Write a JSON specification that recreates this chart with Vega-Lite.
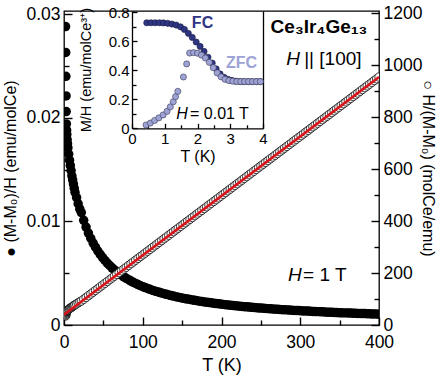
{
 "$schema": "https://vega.github.io/schema/vega-lite/v6.json",
 "width": 315, "height": 314,
 "autosize": "none",
 "padding": {"left": 64, "top": 11, "right": 64, "bottom": 56},
 "background": "white",
 "config": {
  "font": "Liberation Sans",
  "view": {"stroke": "#000", "strokeWidth": 1.3},
  "axis": {"domainColor": "#000", "labelColor": "#000", "titleColor": "#000", "grid": false, "zindex": 1, "titleFontWeight": "normal", "domainWidth": 1.3, "labelFlush": false, "labelOverlap": false},
  "text": {"font": "Liberation Sans"}
 },
 "datasets": {
  "main": [
   {"T":2.0,"chi":0.0288,"inv":34.7},{"T":2.2,"chi":0.0263,"inv":38.0},{"T":2.4,"chi":0.0240,"inv":41.7},{"T":2.6,"chi":0.0221,"inv":45.2},{"T":2.8,"chi":0.0206,"inv":48.5},{"T":3.0,"chi":0.0194,"inv":51.5},{"T":3.3,"chi":0.0188,"inv":53.2},{"T":3.6,"chi":0.0184,"inv":54.3},{"T":4.0,"chi":0.0179,"inv":55.9},{"T":4.5,"chi":0.0175,"inv":57.1},{"T":5,"chi":0.0171,"inv":58.5},{"T":6,"chi":0.0165,"inv":60.6},{"T":7,"chi":0.0159,"inv":62.9},{"T":8,"chi":0.0154,"inv":64.9},{"T":9,"chi":0.0149,"inv":67.1},{"T":10,"chi":0.0144,"inv":69.4},{"T":11,"chi":0.0140,"inv":71.4},{"T":12,"chi":0.0136,"inv":73.5},{"T":13,"chi":0.0132,"inv":75.8},{"T":14,"chi":0.0128,"inv":78.1},{"T":16,"chi":0.0123,"inv":81.3},{"T":18,"chi":0.0117,"inv":85.5},{"T":20,"chi":0.0112,"inv":89.3},
   {"T":22,"chi":0.01085,"inv":92.2},{"T":25,"chi":0.01010,"inv":99.0},{"T":28,"chi":0.00945,"inv":105.8},{"T":31,"chi":0.00887,"inv":112.7},{"T":34,"chi":0.00837,"inv":119.5},{"T":37,"chi":0.00791,"inv":126.4},{"T":40,"chi":0.00751,"inv":133.2},{"T":43,"chi":0.00714,"inv":140.0},{"T":46,"chi":0.00681,"inv":146.9},{"T":49,"chi":0.00651,"inv":153.7},
   {"T":52,"chi":0.00623,"inv":160.6},{"T":55,"chi":0.00597,"inv":167.4},{"T":58,"chi":0.00574,"inv":174.2},{"T":61,"chi":0.00552,"inv":181.1},{"T":64,"chi":0.00532,"inv":187.9},{"T":67,"chi":0.00513,"inv":194.8},{"T":70,"chi":0.00496,"inv":201.6},{"T":73,"chi":0.00480,"inv":208.4},{"T":76,"chi":0.00465,"inv":215.3},{"T":79,"chi":0.00450,"inv":222.1},
   {"T":82,"chi":0.00437,"inv":229.0},{"T":85,"chi":0.00424,"inv":235.8},{"T":88,"chi":0.00412,"inv":242.6},{"T":91,"chi":0.00401,"inv":249.5},{"T":94,"chi":0.00390,"inv":256.3},{"T":97,"chi":0.00380,"inv":263.2},{"T":100,"chi":0.00370,"inv":270.0},{"T":103,"chi":0.00361,"inv":276.8},{"T":106,"chi":0.00353,"inv":283.7},{"T":109,"chi":0.00344,"inv":290.5},
   {"T":112,"chi":0.00336,"inv":297.4},{"T":115,"chi":0.00329,"inv":304.2},{"T":118,"chi":0.00322,"inv":311.0},{"T":121,"chi":0.00315,"inv":317.9},{"T":124,"chi":0.00308,"inv":324.7},{"T":127,"chi":0.00302,"inv":331.6},{"T":130,"chi":0.00296,"inv":338.4},{"T":133,"chi":0.00290,"inv":345.2},{"T":136,"chi":0.00284,"inv":352.1},{"T":139,"chi":0.00279,"inv":358.9},
   {"T":142,"chi":0.00273,"inv":365.8},{"T":145,"chi":0.00268,"inv":372.6},{"T":148,"chi":0.00264,"inv":379.4},{"T":151,"chi":0.00259,"inv":386.3},{"T":154,"chi":0.00254,"inv":393.1},{"T":157,"chi":0.00250,"inv":400.0},{"T":160,"chi":0.00246,"inv":406.8},{"T":163,"chi":0.00242,"inv":413.6},{"T":166,"chi":0.00238,"inv":420.5},{"T":169,"chi":0.00234,"inv":427.3},
   {"T":172,"chi":0.00230,"inv":434.2},{"T":175,"chi":0.00227,"inv":441.0},{"T":178,"chi":0.00223,"inv":447.8},{"T":181,"chi":0.00220,"inv":454.7},{"T":184,"chi":0.00217,"inv":461.5},{"T":187,"chi":0.00214,"inv":468.4},{"T":190,"chi":0.00210,"inv":475.2},{"T":193,"chi":0.00207,"inv":482.0},{"T":196,"chi":0.00205,"inv":488.9},{"T":199,"chi":0.00202,"inv":495.7},
   {"T":202,"chi":0.00199,"inv":502.6},{"T":205,"chi":0.00196,"inv":509.4},{"T":208,"chi":0.00194,"inv":516.2},{"T":211,"chi":0.00191,"inv":523.1},{"T":214,"chi":0.00189,"inv":529.9},{"T":217,"chi":0.00186,"inv":536.8},{"T":220,"chi":0.00184,"inv":543.6},{"T":223,"chi":0.00182,"inv":550.4},{"T":226,"chi":0.00179,"inv":557.3},{"T":229,"chi":0.00177,"inv":564.1},
   {"T":232,"chi":0.00175,"inv":571.0},{"T":235,"chi":0.00173,"inv":577.8},{"T":238,"chi":0.00171,"inv":584.6},{"T":241,"chi":0.00169,"inv":591.5},{"T":244,"chi":0.00167,"inv":598.3},{"T":247,"chi":0.00165,"inv":605.2},{"T":250,"chi":0.00163,"inv":612.0},{"T":253,"chi":0.00162,"inv":618.8},{"T":256,"chi":0.00160,"inv":625.7},{"T":259,"chi":0.00158,"inv":632.5},
   {"T":262,"chi":0.00156,"inv":639.4},{"T":265,"chi":0.00155,"inv":646.2},{"T":268,"chi":0.00153,"inv":653.0},{"T":271,"chi":0.00152,"inv":659.9},{"T":274,"chi":0.00150,"inv":666.7},{"T":277,"chi":0.00148,"inv":673.6},{"T":280,"chi":0.00147,"inv":680.4},{"T":283,"chi":0.00146,"inv":687.2},{"T":286,"chi":0.00144,"inv":694.1},{"T":289,"chi":0.00143,"inv":700.9},
   {"T":292,"chi":0.00141,"inv":707.8},{"T":295,"chi":0.00140,"inv":714.6},{"T":298,"chi":0.00139,"inv":721.4},{"T":301,"chi":0.00137,"inv":728.3},{"T":304,"chi":0.00136,"inv":735.1},{"T":307,"chi":0.00135,"inv":742.0},{"T":310,"chi":0.00134,"inv":748.8},{"T":313,"chi":0.00132,"inv":755.6},{"T":316,"chi":0.00131,"inv":762.5},{"T":319,"chi":0.00130,"inv":769.3},
   {"T":322,"chi":0.00129,"inv":776.2},{"T":325,"chi":0.00128,"inv":783.0},{"T":328,"chi":0.00127,"inv":789.8},{"T":331,"chi":0.00126,"inv":796.7},{"T":334,"chi":0.00124,"inv":803.5},{"T":337,"chi":0.00123,"inv":810.4},{"T":340,"chi":0.00122,"inv":817.2},{"T":343,"chi":0.00121,"inv":824.0},{"T":346,"chi":0.00120,"inv":830.9},{"T":349,"chi":0.00119,"inv":837.7},
   {"T":352,"chi":0.00118,"inv":844.6},{"T":355,"chi":0.00117,"inv":851.4},{"T":358,"chi":0.00117,"inv":858.2},{"T":361,"chi":0.00116,"inv":865.1},{"T":364,"chi":0.00115,"inv":871.9},{"T":367,"chi":0.00114,"inv":878.8},{"T":370,"chi":0.00113,"inv":885.6},{"T":373,"chi":0.00112,"inv":892.4},{"T":376,"chi":0.00111,"inv":899.3},{"T":379,"chi":0.00110,"inv":906.1},
   {"T":382,"chi":0.00110,"inv":913.0},{"T":385,"chi":0.00109,"inv":919.8},{"T":388,"chi":0.00108,"inv":926.6},{"T":391,"chi":0.00107,"inv":933.5},{"T":394,"chi":0.00106,"inv":940.3},{"T":397,"chi":0.00106,"inv":947.2},{"T":400,"chi":0.00105,"inv":954.0}
  ],
  "fit": [{"T":0,"inv":40},{"T":400,"inv":954}],
  "anchor": [{"a":0}],
  "fc": [
   {"T":0.45,"m":0.728},{"T":0.58,"m":0.728},{"T":0.71,"m":0.728},{"T":0.84,"m":0.728},{"T":0.96,"m":0.727},{"T":1.09,"m":0.724},{"T":1.22,"m":0.719},{"T":1.35,"m":0.712},{"T":1.48,"m":0.700},{"T":1.60,"m":0.682},{"T":1.72,"m":0.655},{"T":1.84,"m":0.627},{"T":1.96,"m":0.595},{"T":2.08,"m":0.565},{"T":2.20,"m":0.530},{"T":2.32,"m":0.490},{"T":2.45,"m":0.450},{"T":2.57,"m":0.410},{"T":2.69,"m":0.375},{"T":2.81,"m":0.352},{"T":2.93,"m":0.338},{"T":3.05,"m":0.330},{"T":3.17,"m":0.325},{"T":3.30,"m":0.323},{"T":3.42,"m":0.322},{"T":3.55,"m":0.322},{"T":3.67,"m":0.322},{"T":3.80,"m":0.322},{"T":3.92,"m":0.322}
  ],
  "zfc": [
   {"T":0.43,"m":0.023},{"T":0.56,"m":0.036},{"T":0.69,"m":0.054},{"T":0.82,"m":0.072},{"T":0.95,"m":0.092},{"T":1.07,"m":0.117},{"T":1.17,"m":0.148},{"T":1.26,"m":0.183},{"T":1.33,"m":0.218},{"T":1.40,"m":0.255},{"T":1.57,"m":0.354},{"T":1.67,"m":0.444},{"T":1.76,"m":0.519},{"T":1.88,"m":0.522},{"T":2.00,"m":0.518},{"T":2.12,"m":0.505},{"T":2.24,"m":0.485},{"T":2.36,"m":0.455},{"T":2.48,"m":0.418},{"T":2.60,"m":0.382},{"T":2.72,"m":0.355},{"T":2.84,"m":0.338},{"T":2.96,"m":0.329},{"T":3.08,"m":0.325},{"T":3.20,"m":0.323},{"T":3.32,"m":0.322},{"T":3.44,"m":0.322},{"T":3.56,"m":0.322},{"T":3.68,"m":0.322},{"T":3.80,"m":0.322},{"T":3.92,"m":0.322}
  ]
 },
 "layer": [
  {
   "data": {"name": "main"},
   "mark": {"type": "circle", "color": "#000", "opacity": 1, "size": 90, "clip": true},
   "encoding": {
    "x": {"field": "T", "type": "quantitative", "scale": {"domain": [0, 400], "nice": false, "zero": false},
     "axis": {"orient": "bottom", "offset": -8, "tickSize": 8, "tickColor": "#000", "tickWidth": 1.4, "domain": false, "values": [0,100,200,300,400], "format": "d", "title": "T (K)", "titleFontSize": 18, "titlePadding": 6, "labelFontSize": 17.5, "labelPadding": 8}},
    "y": {"field": "chi", "type": "quantitative", "scale": {"domain": [0, 0.0303], "nice": false, "zero": false},
     "axis": {"orient": "left", "offset": -8, "tickSize": 8, "tickColor": "#000", "tickWidth": 1.4, "domain": false, "values": [0,0.01,0.02,0.03], "format": "~g", "title": "● (M-M₀)/H (emu/molCe)", "titleFontSize": 16, "titlePadding": 7, "labelFontSize": 17.5, "labelPadding": 4}}
   }
  },
  {
   "data": {"name": "anchor"},
   "mark": {"type": "point", "opacity": 0},
   "encoding": {
    "x": {"field": "a", "type": "quantitative", "scale": {"domain": [0, 400], "nice": false, "zero": false},
     "axis": {"orient": "bottom", "offset": -5, "tickSize": 5, "tickColor": "#000", "tickWidth": 1.4, "values": [50,150,250,350], "labels": false, "domain": false, "title": null}},
    "y": {"field": "a", "type": "quantitative", "scale": {"domain": [0, 0.0303], "nice": false, "zero": false},
     "axis": {"orient": "left", "offset": -5, "tickSize": 5, "tickColor": "#000", "tickWidth": 1.4, "values": [0.005,0.015,0.025], "labels": false, "domain": false, "title": null}}
   }
  },
  {
   "data": {"name": "main"},
   "mark": {"type": "circle", "fill": "#fff", "stroke": "#000", "strokeWidth": 0.8, "opacity": 1, "size": 70, "clip": true},
   "encoding": {
    "x": {"field": "T", "type": "quantitative", "scale": {"domain": [0, 400], "nice": false, "zero": false}, "axis": null},
    "y": {"field": "inv", "type": "quantitative", "scale": {"domain": [0, 1208], "nice": false, "zero": false},
     "axis": {"orient": "right", "offset": -8, "tickSize": 8, "tickColor": "#000", "tickWidth": 1.4, "domain": false, "values": [0,200,400,600,800,1000,1200], "format": "d", "title": "○ H/(M-M₀) (molCe/emu)", "titleFontSize": 16, "titlePadding": -2, "labelFontSize": 17.5, "labelPadding": 4}}
   }
  },
  {
   "data": {"name": "anchor"},
   "mark": {"type": "point", "opacity": 0},
   "encoding": {
    "x": {"field": "a", "type": "quantitative", "scale": {"domain": [0, 400], "nice": false, "zero": false}, "axis": null},
    "y": {"field": "a", "type": "quantitative", "scale": {"domain": [0, 1208], "nice": false, "zero": false},
     "axis": {"orient": "right", "offset": -5, "tickSize": 5, "tickColor": "#000", "tickWidth": 1.4, "values": [100,300,500,700,900,1100], "labels": false, "domain": false, "title": null}}
   }
  },
  {
   "data": {"name": "fit"},
   "mark": {"type": "line", "color": "#d7141a", "strokeWidth": 2.6, "clip": true},
   "encoding": {
    "x": {"field": "T", "type": "quantitative", "scale": {"domain": [0, 400], "nice": false, "zero": false}, "axis": null},
    "y": {"field": "inv", "type": "quantitative", "scale": {"domain": [0, 1208], "nice": false, "zero": false}, "axis": null}
   }
  },
  {
   "data": {"name": "fc"},
   "mark": {"type": "circle", "fill": "#2e3583", "stroke": "#1a1a40", "strokeWidth": 0.6, "opacity": 1, "size": 38},
   "encoding": {
    "x": {"field": "T", "type": "quantitative", "scale": {"domain": [0, 4], "range": [68, 199], "nice": false, "zero": false},
     "axis": {"orient": "bottom", "offset": -201.7, "tickSize": 5, "tickColor": "#000", "tickWidth": 1.3, "domain": false, "values": [0,1,2,3,4], "format": "d", "title": "T (K)", "titleFontSize": 16, "titlePadding": 2, "labelFontSize": 15, "labelPadding": 3}},
    "y": {"field": "m", "type": "quantitative", "scale": {"domain": [0, 0.809], "range": [117.3, 0], "nice": false, "zero": false},
     "axis": {"orient": "left", "offset": -73, "tickSize": 5, "tickColor": "#000", "tickWidth": 1.3, "domain": false, "values": [0,0.2,0.4,0.6,0.8], "format": "~g", "title": "M/H (emu/molCe³⁺)", "titleFontSize": 14.5, "titlePadding": 15, "labelFontSize": 15, "labelPadding": 3}}
   }
  },
  {
   "data": {"name": "anchor"},
   "mark": {"type": "point", "opacity": 0},
   "encoding": {
    "x": {"field": "a", "type": "quantitative", "scale": {"domain": [0, 4], "range": [68, 199], "nice": false, "zero": false},
     "axis": {"orient": "bottom", "offset": -200.2, "tickSize": 3.5, "tickColor": "#000", "tickWidth": 1.3, "values": [0.5,1.5,2.5,3.5], "labels": false, "domain": false, "title": null}},
    "y": {"field": "a", "type": "quantitative", "scale": {"domain": [0, 0.809], "range": [117.3, 0], "nice": false, "zero": false},
     "axis": {"orient": "left", "offset": -72, "tickSize": 4, "tickColor": "#000", "tickWidth": 1.3, "values": [0.1,0.3,0.5,0.7], "labels": false, "domain": false, "title": null}}
   }
  },
  {
   "data": {"name": "anchor"},
   "mark": {"type": "point", "opacity": 0},
   "encoding": {
    "x": {"field": "a", "type": "quantitative", "scale": {"domain": [0, 4], "range": [68, 199], "nice": false, "zero": false},
     "axis": {"orient": "bottom", "offset": -196.7, "ticks": false, "labels": false, "domain": true, "title": null}},
    "y": {"field": "a", "type": "quantitative", "scale": {"domain": [0, 0.809], "range": [117.3, 0], "nice": false, "zero": false},
     "axis": {"orient": "left", "offset": -68, "ticks": false, "labels": false, "domain": true, "title": null}}
   }
  },
  {
   "data": {"name": "zfc"},
   "mark": {"type": "circle", "fill": "#9ea3d6", "stroke": "#3a3a55", "strokeWidth": 0.6, "opacity": 1, "size": 38},
   "encoding": {
    "x": {"field": "T", "type": "quantitative", "scale": {"domain": [0, 4], "range": [68, 199], "nice": false, "zero": false}, "axis": null},
    "y": {"field": "m", "type": "quantitative", "scale": {"domain": [0, 0.809], "range": [117.3, 0], "nice": false, "zero": false},
     "axis": {"orient": "right", "offset": -116, "labels": false, "ticks": false, "title": null, "domain": true}}
   }
  },
  {
   "data": {"values": [{"T": 323.8, "v": 0.02815, "label": "Ce₃Ir₄Ge₁₃"}]},
   "mark": {"type": "text", "fontWeight": "bold", "fontSize": 19, "align": "center", "baseline": "alphabetic", "color": "#000"},
   "encoding": {
    "x": {"field": "T", "type": "quantitative", "scale": {"domain": [0, 400], "nice": false, "zero": false}, "axis": null},
    "y": {"field": "v", "type": "quantitative", "scale": {"domain": [0, 0.0303], "nice": false, "zero": false}, "axis": null},
    "text": {"field": "label"}
   }
  },
  {
   "data": {"values": [{"T": 290.8, "v": 0.02509, "label": "H"}, {"T": 293.3, "v": 0.00427, "label": "H"}]},
   "mark": {"type": "text", "fontStyle": "italic", "fontSize": 19, "align": "center", "baseline": "alphabetic", "color": "#000"},
   "encoding": {
    "x": {"field": "T", "type": "quantitative", "scale": {"domain": [0, 400], "nice": false, "zero": false}, "axis": null},
    "y": {"field": "v", "type": "quantitative", "scale": {"domain": [0, 0.0303], "nice": false, "zero": false}, "axis": null},
    "text": {"field": "label"}
   }
  },
  {
   "data": {"values": [{"T": 305, "v": 0.02509, "label": "|| [100]"}, {"T": 303.5, "v": 0.00427, "label": "= 1 T"}]},
   "mark": {"type": "text", "fontSize": 19, "align": "left", "baseline": "alphabetic", "color": "#000"},
   "encoding": {
    "x": {"field": "T", "type": "quantitative", "scale": {"domain": [0, 400], "nice": false, "zero": false}, "axis": null},
    "y": {"field": "v", "type": "quantitative", "scale": {"domain": [0, 0.0303], "nice": false, "zero": false}, "axis": null},
    "text": {"field": "label"}
   }
  },
  {
   "data": {"values": [{"T": 2.153, "m": 0.69, "label": "FC", "c": "FC"}, {"T": 3.344, "m": 0.414, "label": "ZFC", "c": "ZFC"}]},
   "mark": {"type": "text", "fontWeight": "bold", "fontSize": 16, "align": "center", "baseline": "alphabetic"},
   "encoding": {
    "x": {"field": "T", "type": "quantitative", "scale": {"domain": [0, 4], "range": [68, 199], "nice": false, "zero": false}, "axis": null},
    "y": {"field": "m", "type": "quantitative", "scale": {"domain": [0, 0.809], "range": [117.3, 0], "nice": false, "zero": false}, "axis": null},
    "text": {"field": "label"},
    "color": {"field": "c", "type": "nominal", "scale": {"domain": ["FC", "ZFC"], "range": ["#2e3583", "#9ea3d6"]}, "legend": null}
   }
  },
  {
   "data": {"values": [{"T": 1.527, "m": 0.062, "label": "H"}]},
   "mark": {"type": "text", "fontStyle": "italic", "fontSize": 16, "align": "center", "baseline": "alphabetic", "color": "#000"},
   "encoding": {
    "x": {"field": "T", "type": "quantitative", "scale": {"domain": [0, 4], "range": [68, 199], "nice": false, "zero": false}, "axis": null},
    "y": {"field": "m", "type": "quantitative", "scale": {"domain": [0, 0.809], "range": [117.3, 0], "nice": false, "zero": false}, "axis": null},
    "text": {"field": "label"}
   }
  },
  {
   "data": {"values": [{"T": 1.771, "m": 0.062, "label": "= 0.01 T"}]},
   "mark": {"type": "text", "fontSize": 16, "align": "left", "baseline": "alphabetic", "color": "#000"},
   "encoding": {
    "x": {"field": "T", "type": "quantitative", "scale": {"domain": [0, 4], "range": [68, 199], "nice": false, "zero": false}, "axis": null},
    "y": {"field": "m", "type": "quantitative", "scale": {"domain": [0, 0.809], "range": [117.3, 0], "nice": false, "zero": false}, "axis": null},
    "text": {"field": "label"}
   }
  }
 ],
 "resolve": {"scale": {"x": "independent", "y": "independent", "color": "independent"}, "axis": {"x": "independent", "y": "independent"}}
}
